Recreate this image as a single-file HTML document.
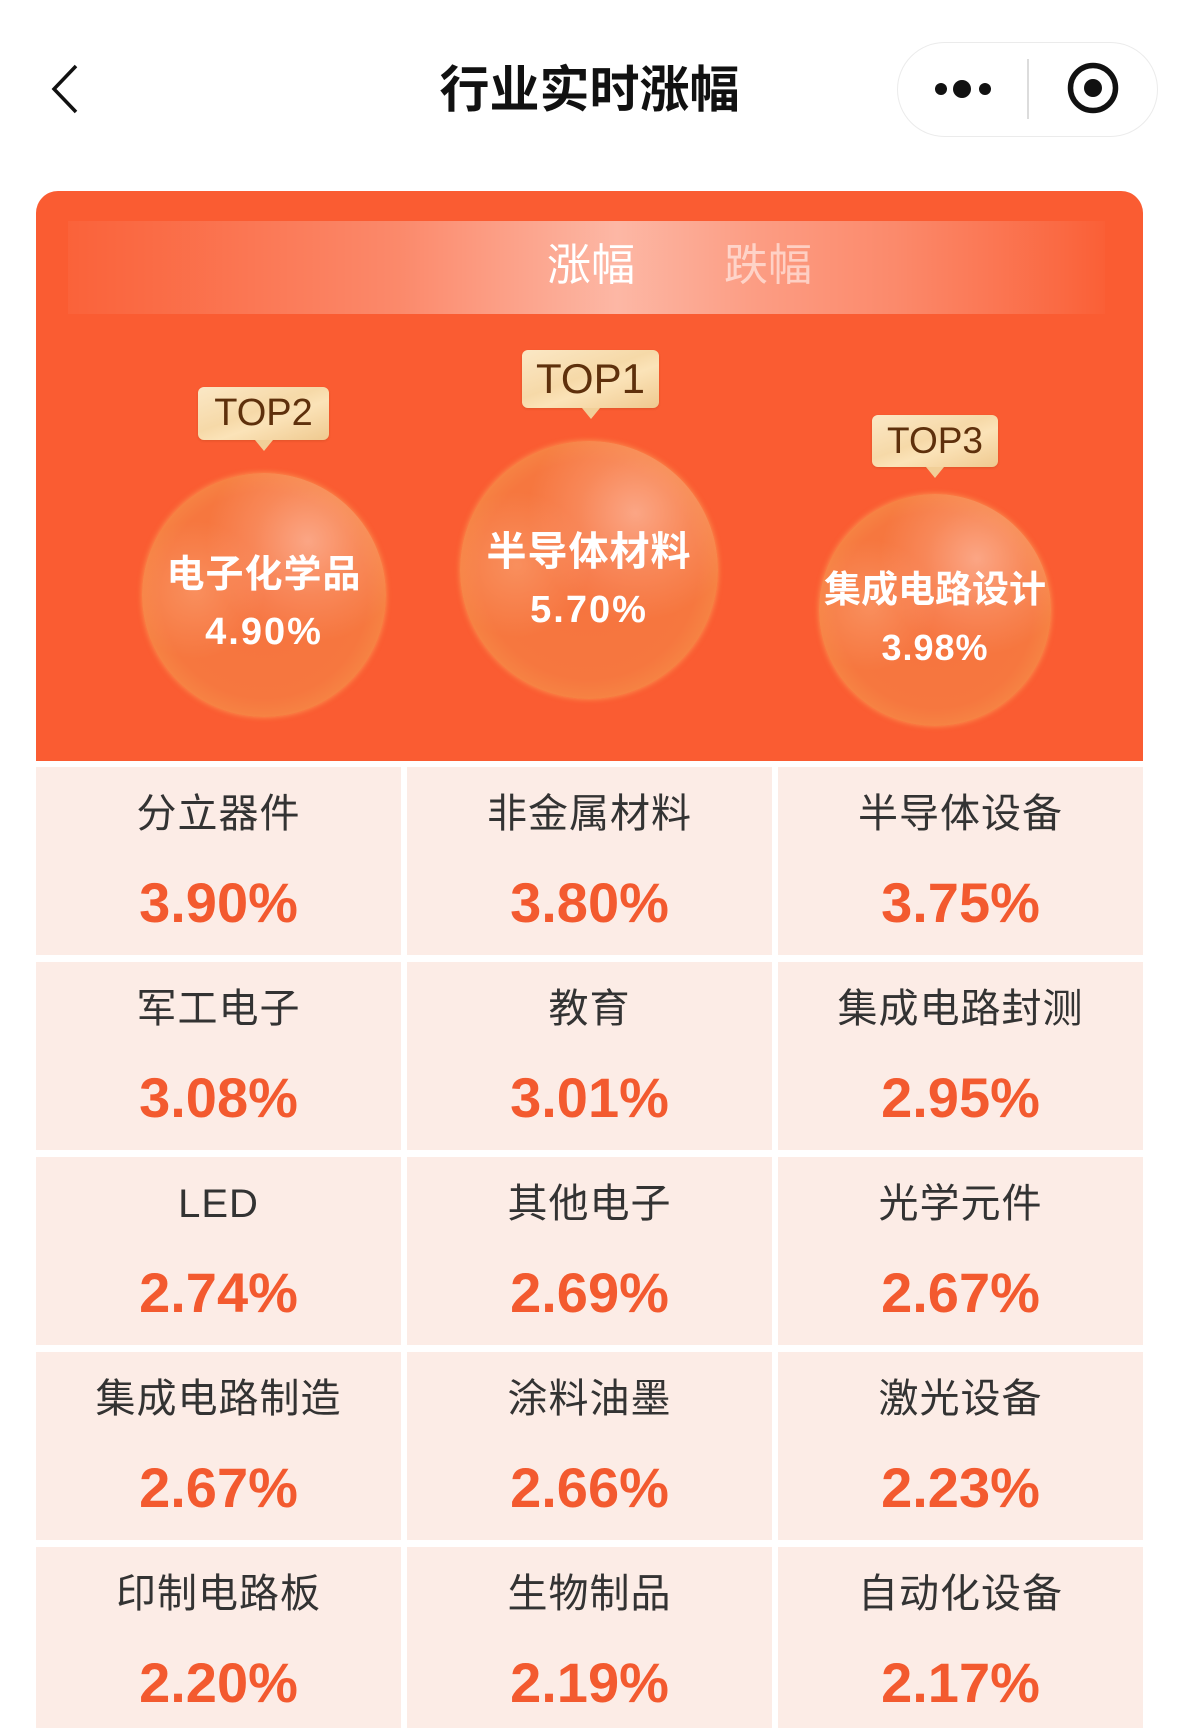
<!DOCTYPE html>
<html><head><meta charset="utf-8">
<style>
*{margin:0;padding:0;box-sizing:border-box}
html,body{width:1179px;height:1728px;overflow:hidden;background:#fff}
body{position:relative;font-family:"Liberation Sans","Noto Sans CJK SC",sans-serif}
.abs{position:absolute}
.title{left:0;width:1179px;top:60px;height:60px;line-height:60px;text-align:center;font-size:50px;font-weight:bold;color:#111}
.cap{left:897px;top:42px;width:261px;height:95px;border:1.5px solid #ebebeb;border-radius:48px;background:#fff}
.card{left:36px;top:191px;width:1107px;height:570px;background:#fa5c32;border-radius:22px 22px 0 0;overflow:hidden}
.band{left:32px;top:30px;width:1037px;height:93px;background:linear-gradient(90deg,rgba(255,255,255,0.04) 0%,rgba(255,255,255,0.12) 12%,rgba(255,255,255,0.28) 32%,rgba(255,255,255,0.56) 53%,rgba(255,255,255,0.4) 66%,rgba(255,255,255,0.28) 80%,rgba(255,255,255,0.08) 96%,rgba(255,255,255,0.02) 100%)}
.tab{top:241px;height:50px;line-height:50px;font-size:44px;text-align:center;width:120px}
.circ{border-radius:50%;
background:
radial-gradient(circle at 68% 28%,rgba(255,205,190,0.55) 0%,rgba(255,190,165,0.25) 22%,rgba(255,180,150,0) 42%),
radial-gradient(circle at 22% 48%,rgba(255,190,150,0.35) 0%,rgba(255,190,150,0) 30%),
radial-gradient(circle at 50% 50%,#f6733f 0%,#f6773f 60%,#f78a46 78%,#f9a652 90%,#fcc060 97%,#fbb058 100%);
box-shadow:0 0 6px rgba(255,200,110,0.55)}
.ct{color:#fff;text-align:center;font-weight:bold;white-space:nowrap}
.badge{border-radius:6px;background:linear-gradient(160deg,#fbe8c6 0%,#f6d9a8 45%,#fbe3b8 60%,#efc98f 100%);color:#5e300c;text-align:center;box-shadow:0 1px 2px rgba(150,60,20,0.25)}
.badge:after{content:"";position:absolute;left:50%;bottom:-11px;margin-left:-9px;border-left:9px solid transparent;border-right:9px solid transparent;border-top:11px solid #f1cf98}
.grid{left:36px;top:767px;width:1107px;display:grid;grid-template-columns:365px 365px 365px;column-gap:6px;row-gap:7px}
.cell{position:relative;height:188px;background:#fcece6}
.lab{position:absolute;left:0;right:0;top:22px;height:50px;line-height:50px;text-align:center;font-size:40px;letter-spacing:1px;color:#333}
.num{position:absolute;left:0;right:0;top:106px;height:60px;line-height:60px;text-align:center;font-size:56px;font-weight:bold;color:#f35a2f}
</style></head><body>

<svg class="abs" style="left:0;top:0" width="140" height="140">
<polyline points="76,66 54,89 76,112" fill="none" stroke="#111" stroke-width="3.5" stroke-linejoin="miter"/>
</svg>
<div class="abs title">行业实时涨幅</div>
<div class="abs cap"></div>
<svg class="abs" style="left:897px;top:42px" width="262" height="96">
<circle cx="44" cy="47" r="6" fill="#111"/>
<circle cx="65" cy="47" r="9" fill="#111"/>
<circle cx="88" cy="47" r="6" fill="#111"/>
<line x1="131" y1="17" x2="131" y2="77" stroke="#dcdcdc" stroke-width="2"/>
<circle cx="196" cy="46" r="22.5" fill="none" stroke="#111" stroke-width="5.5"/>
<circle cx="196" cy="46" r="9" fill="#111"/>
</svg>

<div class="abs card">
  <div class="abs band"></div>
</div>
<div class="abs tab" style="left:531px;color:#fff">涨幅</div>
<div class="abs tab" style="left:708px;color:rgba(255,255,255,0.55)">跌幅</div>

<!-- circles -->
<div class="abs circ" style="left:142px;top:473px;width:244px;height:244px"></div>
<div class="abs circ" style="left:460px;top:441px;width:258px;height:258px"></div>
<div class="abs circ" style="left:819px;top:494px;width:232px;height:232px"></div>

<div class="abs ct" style="left:114px;width:300px;top:550px;height:50px;line-height:50px;font-size:38px;letter-spacing:1px">电子化学品</div>
<div class="abs ct" style="left:114px;width:300px;top:609px;height:46px;line-height:46px;font-size:38px;letter-spacing:2px">4.90%</div>

<div class="abs ct" style="left:439px;width:300px;top:527px;height:50px;line-height:50px;font-size:40px;letter-spacing:1px">半导体材料</div>
<div class="abs ct" style="left:439px;width:300px;top:587px;height:46px;line-height:46px;font-size:38px;letter-spacing:2px">5.70%</div>

<div class="abs ct" style="left:785px;width:300px;top:566px;height:48px;line-height:48px;font-size:37px">集成电路设计</div>
<div class="abs ct" style="left:785px;width:300px;top:626px;height:44px;line-height:44px;font-size:36px;letter-spacing:1px">3.98%</div>

<!-- badges -->
<div class="abs badge" style="left:522px;top:350px;width:137px;height:58px;line-height:58px;font-size:42px">TOP1</div>
<div class="abs badge" style="left:198px;top:387px;width:131px;height:53px;line-height:53px;font-size:38px">TOP2</div>
<div class="abs badge" style="left:872px;top:415px;width:126px;height:52px;line-height:52px;font-size:37px">TOP3</div>

<div class="abs grid">
  <div class="cell"><div class="lab">分立器件</div><div class="num">3.90%</div></div>
  <div class="cell"><div class="lab">非金属材料</div><div class="num">3.80%</div></div>
  <div class="cell"><div class="lab">半导体设备</div><div class="num">3.75%</div></div>
  <div class="cell"><div class="lab">军工电子</div><div class="num">3.08%</div></div>
  <div class="cell"><div class="lab">教育</div><div class="num">3.01%</div></div>
  <div class="cell"><div class="lab">集成电路封测</div><div class="num">2.95%</div></div>
  <div class="cell"><div class="lab">LED</div><div class="num">2.74%</div></div>
  <div class="cell"><div class="lab">其他电子</div><div class="num">2.69%</div></div>
  <div class="cell"><div class="lab">光学元件</div><div class="num">2.67%</div></div>
  <div class="cell"><div class="lab">集成电路制造</div><div class="num">2.67%</div></div>
  <div class="cell"><div class="lab">涂料油墨</div><div class="num">2.66%</div></div>
  <div class="cell"><div class="lab">激光设备</div><div class="num">2.23%</div></div>
  <div class="cell"><div class="lab">印制电路板</div><div class="num">2.20%</div></div>
  <div class="cell"><div class="lab">生物制品</div><div class="num">2.19%</div></div>
  <div class="cell"><div class="lab">自动化设备</div><div class="num">2.17%</div></div>
</div>
</body></html>
